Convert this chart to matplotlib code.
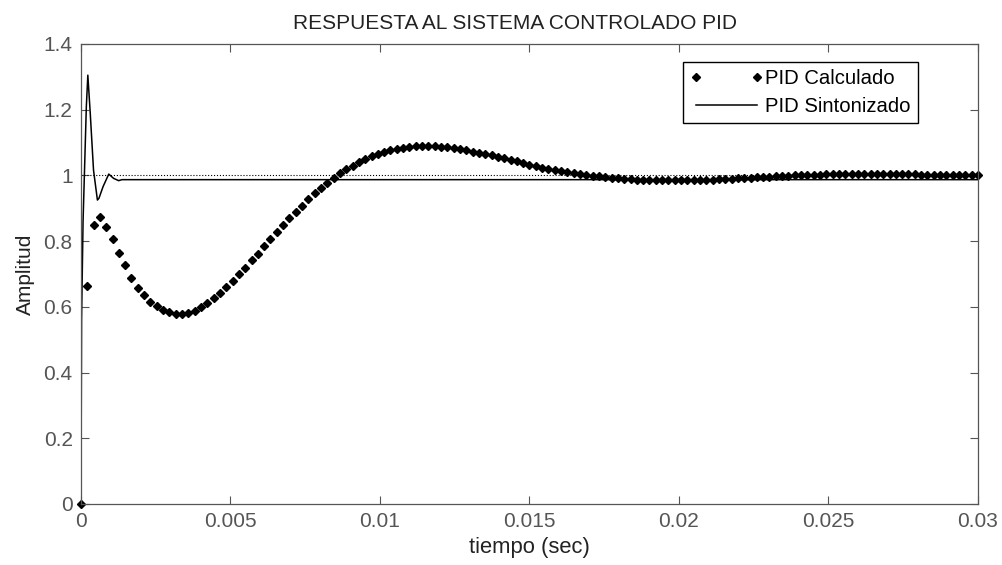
import numpy as np
import matplotlib
matplotlib.use("Agg")
import matplotlib.pyplot as plt

plt.rcParams['font.family'] = ['Liberation Sans', 'DejaVu Sans']
plt.rcParams['font.size'] = 15

# step response, computed gains (sampled)
calc = [
    0.000, 0.663, 0.849, 0.874, 0.844, 0.806, 0.765, 0.726, 0.689, 0.658,
    0.636, 0.616, 0.601, 0.591, 0.584, 0.579, 0.578, 0.581, 0.588, 0.598,
    0.611, 0.626, 0.642, 0.660, 0.679, 0.699, 0.719, 0.741, 0.762, 0.784,
    0.806, 0.828, 0.849, 0.869, 0.889, 0.908, 0.927, 0.945, 0.962, 0.978,
    0.992, 1.006, 1.018, 1.029, 1.040, 1.050, 1.058, 1.066, 1.072, 1.077,
    1.081, 1.084, 1.086, 1.088, 1.089, 1.089, 1.089, 1.087, 1.085, 1.082,
    1.079, 1.076, 1.072, 1.069, 1.065, 1.061, 1.057, 1.052, 1.047, 1.043,
    1.038, 1.033, 1.029, 1.024, 1.019, 1.016, 1.013, 1.010, 1.007, 1.005,
    1.002, 0.999, 0.997, 0.994, 0.992, 0.991, 0.989, 0.988, 0.987, 0.986,
    0.985, 0.985, 0.985, 0.985, 0.985, 0.985, 0.985, 0.986, 0.986, 0.987,
    0.987, 0.988, 0.989, 0.990, 0.991, 0.992, 0.993, 0.994, 0.995, 0.996,
    0.997, 0.998, 0.999, 1.000, 1.001, 1.001, 1.002, 1.002, 1.003, 1.003,
    1.003, 1.003, 1.003, 1.003, 1.003, 1.003, 1.003, 1.003, 1.003, 1.003,
    1.003, 1.003, 1.003, 1.002, 1.002, 1.002, 1.002, 1.002, 1.002, 1.002,
    1.002, 1.002, 1.002,
]
t_calc = np.linspace(0, 0.03, len(calc))

# step response, tuned gains
t_sint = [0, 0.00002, 0.00007, 0.00018, 0.00023, 0.00031, 0.00042, 0.00055,
          0.00060, 0.00074, 0.00093, 0.00109, 0.00126, 0.00137, 0.03]
y_sint = [0, 0.56, 0.86, 1.21, 1.305, 1.19, 1.016, 0.925,
          0.93, 0.966, 1.004, 0.991, 0.984, 0.987, 0.987]

xticks = [0, 0.005, 0.01, 0.015, 0.02, 0.025, 0.03]
xticklabels = ['0', '0.005', '0.01', '0.015', '0.02', '0.025', '0.03']
yticks = [0, 0.2, 0.4, 0.6, 0.8, 1.0, 1.2, 1.4]
yticklabels = ['0', '0.2', '0.4', '0.6', '0.8', '1', '1.2', '1.4']

fig = plt.figure(figsize=(10.02, 5.65), dpi=100)
ax = fig.add_axes([0.0808, 0.108, 0.8952, 0.8142])

ax.plot([0, 0.03], [1, 1], ':', color='black', lw=0.8)
ax.plot(t_calc, calc, 'D', color='black', ms=3.8, clip_on=False,
        label='PID Calculado')
ax.plot(t_sint, y_sint, '-', color='black', lw=1.1, label='PID Sintonizado')

ax.set_xlim(0, 0.03)
ax.set_ylim(0, 1.4)
ax.set_xticks(xticks)
ax.set_xticklabels(xticklabels)
ax.set_yticks(yticks)
ax.set_yticklabels(yticklabels)
ax.tick_params(direction='in', top=True, right=True, length=6, width=0.8,
               color='#555555', labelcolor='#555555', pad=6)
for s in ax.spines.values():
    s.set_color('#555555')
    s.set_linewidth(0.9)

ax.set_title('RESPUESTA AL SISTEMA CONTROLADO PID', pad=11, color='#222222',
             fontsize=15, x=0.484)
ax.set_xlabel('tiempo (sec)', labelpad=4, color='#222222', fontsize=15.8)
ax.set_ylabel('Amplitud', labelpad=6, color='#222222')

leg = ax.legend(loc='upper right', bbox_to_anchor=(0.9331, 0.9609),
                borderaxespad=0, numpoints=2, handlelength=3.6,
                handletextpad=0.1, labelspacing=0.45, borderpad=0.35,
                fancybox=False, framealpha=1, edgecolor='black',
                fontsize=14.6)
leg.get_frame().set_linewidth(1.0)

fig.savefig('out.png', dpi=100)
